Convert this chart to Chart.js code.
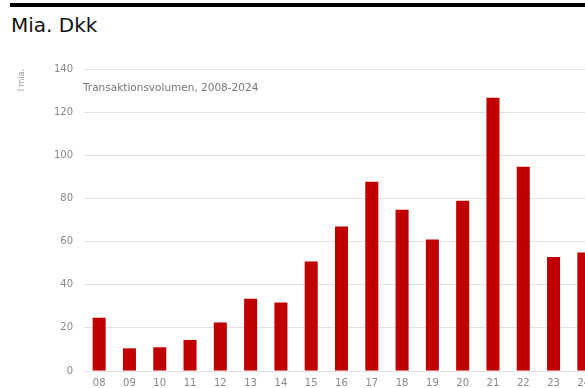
<!DOCTYPE html>
<html>
<head>
<meta charset="utf-8">
<script src="https://cdn.jsdelivr.net/npm/chart.js@4.4.1/dist/chart.umd.min.js"></script>
<style>
	html, body { margin: 0; padding: 0; width: 585px; height: 388px; overflow: hidden; background: #fff; }
	.topline { position: absolute; left: 10px; top: 3px; width: 590px; height: 4px; background: #000; }
	.heading { position: absolute; left: 11px; top: 13px; font: 20px 'DejaVu Sans', Verdana, sans-serif; color: #111; }
	.wrap { position: absolute; left: 0; top: 40px; width: 600px; height: 370px; }
</style>
</head>
<body>
<div class="topline"></div>
<div class="heading">Mia. Dkk</div>
<div class="wrap"><canvas id="chart"></canvas></div>
<script>
	// years on the x axis
	const years = ['08', '09', '10', '11', '12', '13', '14', '15', '16', '17', '18', '19', '20', '21', '22', '23', '24'];

	// transaction volume, billions DKK
	const volume = [24.7, 10.5, 11, 14.4, 22.5, 33.5, 31.8, 50.8, 67, 87.7, 74.7, 61, 78.9, 126.7, 94.7, 52.9, 54.9];

	const subtitle = 'Transaktionsvolumen, 2008-2024';
	const axisTitle = 'I mia.';

	const fontFamily = "'DejaVu Sans', Verdana, sans-serif";

	// draw the subtitle inside the plot, just under the top grid line
	const subtitlePlugin = {
		id: 'subtitleInside',
		afterDraw: function ( chart ) {
			const ctx = chart.ctx;
			ctx.save();
			ctx.font = '10.5px ' + fontFamily;
			ctx.fillStyle = '#777';
			ctx.textBaseline = 'middle';
			ctx.fillText( subtitle, chart.chartArea.left - 1, chart.chartArea.top + 19 );
			ctx.restore();
		}
	};

	new Chart( document.getElementById( 'chart' ).getContext( '2d' ), {
		type: 'bar',
		data: {
			labels: years,
			datasets: [ {
				data: volume,
				backgroundColor: '#c00000',
				borderWidth: 0,
				categoryPercentage: 1,
				barPercentage: 0.43
			} ]
		},
		options: {
			responsive: true,
			maintainAspectRatio: false,
			animation: false,
			layout: {
				padding: { top: 29, right: 1, bottom: 15, left: 0 }
			},
			plugins: {
				legend: { display: false },
				tooltip: { enabled: false }
			},
			scales: {
				x: {
					grid: { display: false, drawTicks: false },
					border: { display: false },
					ticks: {
						padding: 6,
						color: '#888',
						font: { size: 10, family: fontFamily }
					}
				},
				y: {
					min: 0,
					max: 140,
					afterFit: function ( scale ) {
						scale.width = 84;
					},
					grid: { color: '#e2e2e2', drawTicks: false },
					border: { display: false },
					ticks: {
						stepSize: 20,
						padding: 11,
						color: '#888',
						font: { size: 10, family: fontFamily }
					},
					title: {
						display: true,
						text: axisTitle,
						align: 'end',
						color: '#999',
						font: { size: 8, family: fontFamily },
						padding: { top: 17, bottom: 0 }
					}
				}
			}
		},
		plugins: [ subtitlePlugin ]
	} );
</script>
</body>
</html>
